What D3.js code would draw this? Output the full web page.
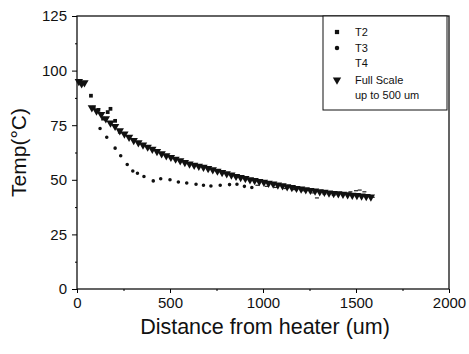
<!DOCTYPE html>
<html>
<head>
<meta charset="utf-8">
<script src="https://cdn.jsdelivr.net/npm/d3@7"></script>
<style>
  body { margin: 0; background: #fff; }
  text { font-family: "Liberation Sans", Arial, sans-serif; fill: #111; }
</style>
</head>
<body>
<div id="chart"></div>
<script>
// Data
const xTicks = [0, 500, 1000, 1500, 2000];
const yTicks = [0, 25, 50, 75, 100, 125];

const fullX = [10, 25, 40, 80, 105, 130, 155, 180, 205, 230, 255, 280, 305, 330, 355, 380, 405, 430, 455, 480,
  505, 530, 555, 580, 605, 630, 655, 680, 705, 730, 755, 780, 805, 830, 855, 880, 905, 930, 955, 980,
  1005, 1030, 1055, 1080, 1105, 1130, 1155, 1180, 1205, 1230, 1255, 1280, 1305, 1330, 1355, 1380, 1405,
  1430, 1455, 1480, 1505, 1530, 1555, 1580];
const fullY = [95, 94, 94.5, 83, 81.5, 80, 78, 76, 74.5, 72.5, 71, 69.5, 68, 67, 66, 65, 64, 63, 62, 61,
  60.3, 59.5, 58.8, 58, 57.3, 56.7, 56.2, 55.8, 55.2, 54.6, 54, 53.4, 52.8, 52.2, 51.6, 51.1, 50.6, 50.1, 49.7, 49.3,
  48.9, 48.5, 48.1, 47.7, 47.3, 46.9, 46.5, 46.1, 45.8, 45.5, 45.2, 44.9, 44.6, 44.3, 44, 43.8, 43.6,
  43.4, 43.2, 43, 42.8, 42.6, 42.4, 42.2];

const t2X = [75, 90, 115, 140, 165, 180, 205, 230];
const t2Y = [88.5, 83, 82, 78, 81, 82.5, 77, 72];

const t3X = [124, 160, 205, 235, 270, 300, 325, 360, 410, 450, 500, 545, 590, 640, 680, 720, 770, 820, 860, 900, 940];
const t3Y = [73.5, 69.5, 64.5, 61, 57, 54, 53, 51.5, 49.5, 50.5, 50, 49, 48.5, 48, 47.5, 47.2, 47.5, 47.8, 48, 47, 46.5];

const t4X = [970, 1020, 1070, 1120, 1170, 1220, 1270, 1290, 1330, 1380, 1420, 1470, 1500, 1520, 1545, 1570, 1590];
const t4Y = [47.5, 47, 46.5, 46, 45.5, 45, 44, 41.7, 43.5, 43, 44, 44.5, 45, 45.3, 44.5, 43, 42];

const legendLabels = ["T2", "T3", "T4", "Full Scale", "up to 500 um"];

const W = 469, H = 354;
const margin = { top: 16, right: 20, bottom: 65, left: 77 };

const svg = d3.select("#chart").append("svg")
    .attr("width", W)
    .attr("height", H);

const x = d3.scaleLinear().domain([0, 2000]).range([margin.left, 449]);
const y = d3.scaleLinear().domain([0, 125]).range([289, margin.top]);

// Frame
svg.append("rect")
    .attr("x", x(0)).attr("y", y(125))
    .attr("width", x(2000) - x(0)).attr("height", y(0) - y(125))
    .attr("fill", "none").attr("stroke", "#111").attr("stroke-width", 1.3);

// X axis
const xAxis = svg.append("g")
    .attr("transform", `translate(0,${y(0)})`)
    .call(d3.axisBottom(x).tickValues(xTicks).tickSize(4).tickPadding(4).tickFormat(d3.format("d")));
xAxis.select(".domain").remove();
xAxis.selectAll("text").style("font-size", "15px");
svg.append("g")
    .attr("transform", `translate(0,${y(0)})`)
    .call(d3.axisBottom(x).tickValues([250, 750, 1250, 1750]).tickSize(2).tickFormat(""))
    .select(".domain").remove();

// Y axis
const yAxis = svg.append("g")
    .attr("transform", `translate(${x(0)},0)`)
    .call(d3.axisLeft(y).tickValues(yTicks).tickSize(5).tickPadding(5));
yAxis.select(".domain").remove();
yAxis.selectAll("text").style("font-size", "15px");
svg.append("g")
    .attr("transform", `translate(${x(0)},0)`)
    .call(d3.axisLeft(y).tickValues([12.5, 37.5, 62.5, 87.5, 112.5]).tickSize(2).tickFormat(""))
    .select(".domain").remove();

// Axis titles
svg.append("text")
    .attr("x", (x(0) + x(2000)) / 2 + 2)
    .attr("y", 334)
    .attr("text-anchor", "middle")
    .style("font-size", "21.5px")
    .text("Distance from heater (um)");

svg.append("text")
    .attr("transform", `translate(26,${(y(0) + y(125)) / 2}) rotate(-90)`)
    .attr("text-anchor", "middle")
    .style("font-size", "21px")
    .text("Temp(°C)");

// Series
const sq = d3.symbol().type(d3.symbolSquare).size(14);
const circ = d3.symbol().type(d3.symbolCircle).size(10);
const tri = d3.symbol().type(d3.symbolTriangle).size(30);

svg.append("g").selectAll("line")
    .data(d3.zip(t4X, t4Y))
    .enter().append("line")
    .attr("x1", d => x(d[0]) - 2).attr("x2", d => x(d[0]) + 2)
    .attr("y1", d => y(d[1])).attr("y2", d => y(d[1]))
    .attr("stroke", "#222").attr("stroke-width", 1.2);

svg.append("g").selectAll("path")
    .data(d3.zip(t3X, t3Y))
    .enter().append("path")
    .attr("d", circ)
    .attr("transform", d => `translate(${x(d[0])},${y(d[1])})`)
    .attr("fill", "#111");

svg.append("g").selectAll("path")
    .data(d3.zip(t2X, t2Y))
    .enter().append("path")
    .attr("d", sq)
    .attr("transform", d => `translate(${x(d[0])},${y(d[1])})`)
    .attr("fill", "#111");

svg.append("g").selectAll("path")
    .data(d3.zip(fullX, fullY))
    .enter().append("path")
    .attr("d", tri)
    .attr("transform", d => `translate(${x(d[0])},${y(d[1])}) rotate(180)`)
    .attr("fill", "#111");

// Legend
const lg = svg.append("g");
lg.append("rect")
    .attr("x", 323).attr("y", 16)
    .attr("width", 124).attr("height", 94)
    .attr("fill", "#fff").attr("stroke", "#111").attr("stroke-width", 1);

const rowY = [32, 48, 63, 80, 95];
legendLabels.forEach((lab, i) => {
    lg.append("text")
        .attr("x", 355).attr("y", rowY[i])
        .attr("dy", "0.35em")
        .style("font-size", "11px")
        .text(lab);
});
lg.append("path").attr("d", d3.symbol().type(d3.symbolSquare).size(18))
    .attr("transform", `translate(337,${rowY[0]})`).attr("fill", "#111");
lg.append("path").attr("d", d3.symbol().type(d3.symbolCircle).size(16))
    .attr("transform", `translate(337,${rowY[1]})`).attr("fill", "#111");
lg.append("path").attr("d", tri)
    .attr("transform", `translate(337,${rowY[3]}) rotate(180)`).attr("fill", "#111");
</script>
</body>
</html>
